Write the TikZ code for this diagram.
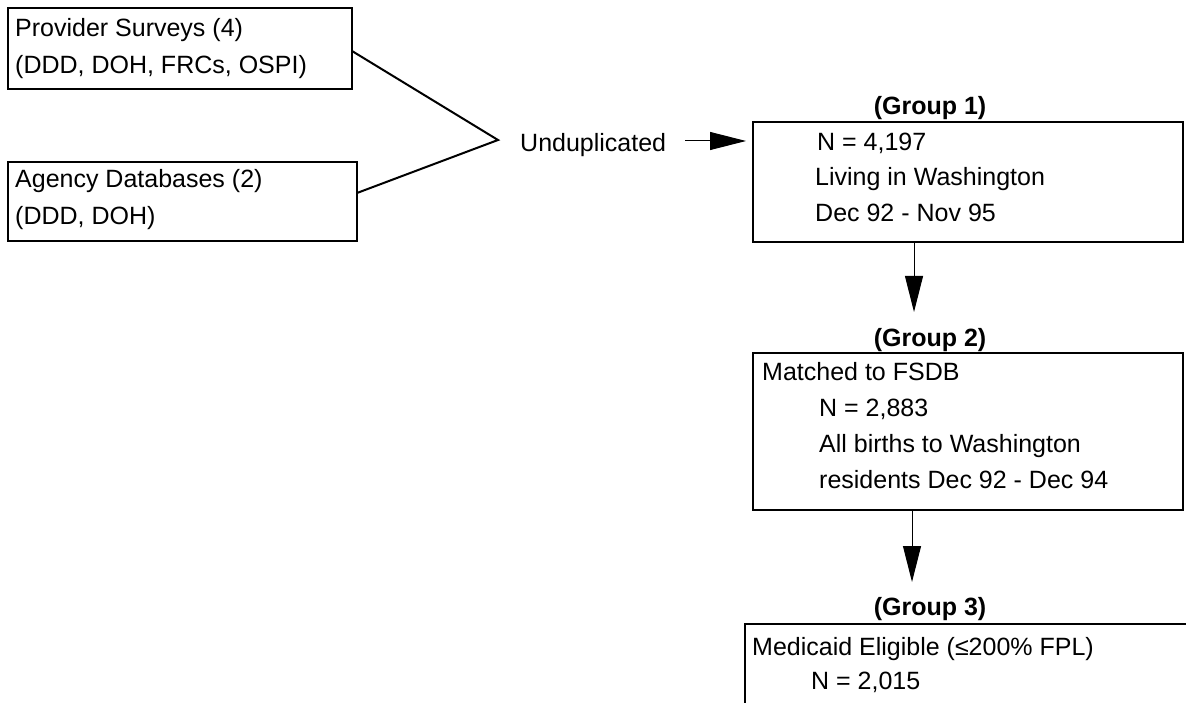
\documentclass[tikz,border=0pt]{standalone}
\usepackage{fontspec}
\setmainfont{Liberation Sans}
\usetikzlibrary{arrows.meta}
\begin{document}
\begin{tikzpicture}[x=1pt,y=-1pt,
  box/.style={draw=black,line width=2.6pt,inner sep=0pt,outer sep=0pt,anchor=north west},
  txt/.style={anchor=base west,inner sep=0pt,font=\fontsize{25}{30}\selectfont},
  grp/.style={anchor=base,inner sep=0pt,font=\fontsize{25}{30}\selectfont\bfseries},
  joinline/.style={line width=2pt,line cap=round},
  arr/.style={line width=1pt,-{Triangle[length=36pt,width=18pt]}}]
\useasboundingbox (0,0) rectangle (1186,703);
\clip (0,0) rectangle (1186,703);
% source boxes
\node[box,minimum width=344pt,minimum height=81pt] (p1) at (8,8) {};
\node[box,minimum width=349pt,minimum height=79pt] (p2) at (8,162) {};
\node[txt] (p1a) at (15,37) {Provider Surveys (4)};
\node[txt] (p1b) at (15,74) {(DDD, DOH, FRCs, OSPI)};
\node[txt] (p2a) at (15,188) {Agency Databases (2)};
\node[txt] (p2b) at (15,225) {(DDD, DOH)};
\coordinate (apex) at (498,140);
\draw[joinline] ([yshift=-2.5pt]p1.east) -- (apex) -- ([yshift=8.5pt]p2.east);
\node[txt] (und) at (520,152) {Unduplicated};
\coordinate (ustart) at (685,141);
% group 1
\node[grp] (g1lab) at (930,115) {(Group 1)};
\node[box,minimum width=430pt,minimum height=120pt] (g1) at (753,122) {};
\node[txt] (g1a) at (817,151) {N = 4,197};
\node[txt] (g1b) at (815,186) {Living in Washington};
\node[txt] (g1c) at (815,222) {Dec 92 - Nov 95};
\draw[arr,shorten >=7pt] (ustart) -- (ustart -| g1.west);
% group 2
\node[grp] (g2lab) at (930,346) {(Group 2)};
\node[box,minimum width=430pt,minimum height=157pt] (g2) at (753,353) {};
\node[txt] (g2a) at (762,380) {Matched to FSDB};
\node[txt] (g2b) at (819,416) {N = 2,883};
\node[txt] (g2c) at (819,452) {All births to Washington};
\node[txt] (g2d) at (819,488) {residents Dec 92 - Dec 94};
\coordinate (a1) at (914,312);
\draw[arr] (g1.south -| a1) -- (a1);
% group 3
\node[grp] (g3lab) at (930,615) {(Group 3)};
\node[box,minimum width=520pt,minimum height=200pt] (g3) at (745,624) {};
\node[txt] (g3a) at (752,655) {Medicaid Eligible (≤200\% FPL)};
\node[txt] (g3b) at (811,689) {N = 2,015};
\coordinate (a2) at (912,582);
\draw[arr] (g2.south -| a2) -- (a2);
\end{tikzpicture}
\end{document}
